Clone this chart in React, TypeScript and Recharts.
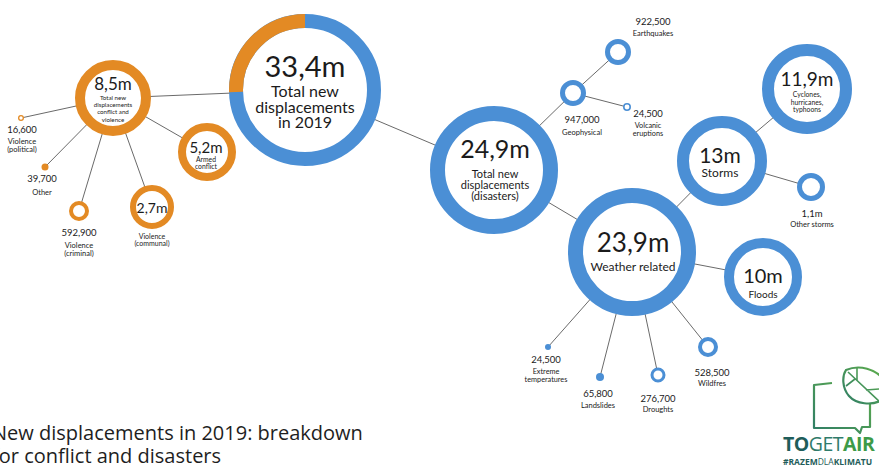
import React from 'react';
import { ScatterChart, Scatter, XAxis, YAxis } from 'recharts';

// ---- data ----
const nodeValues = ['33,4m', '8,5m', '5,2m', '2,7m', '592,900', '39,700', '16,600', '24,9m', '947,000', '922,500', '24,500', '23,9m', '13m', '11,9m', '1,1m', '10m', '24,500', '65,800', '276,700', '528,500'];
const nodeLabels: string[][] = [
  ['Total new', 'displacements', 'in 2019'],
  ['Total new', 'displacements', 'conflict and', 'violence'],
  ['Armed', 'conflict'],
  ['Violence', '(communal)'],
  ['Violence', '(criminal)'],
  ['Other'],
  ['Violence', '(political)'],
  ['Total new', 'displacements', '(disasters)'],
  ['Geophysical'],
  ['Earthquakes'],
  ['Volcanic', 'eruptions'],
  ['Weather related'],
  ['Storms'],
  ['Cyclones,', 'hurricanes,', 'typhoons'],
  ['Other storms'],
  ['Floods'],
  ['Extreme', 'temperatures'],
  ['Landslides'],
  ['Droughts'],
  ['Wildfres'],
];
const nodeGroups = ['total', 'conflict', 'conflict', 'conflict', 'conflict', 'conflict', 'conflict', 'disaster', 'disaster', 'disaster', 'disaster', 'disaster', 'disaster', 'disaster', 'disaster', 'disaster', 'disaster', 'disaster', 'disaster', 'disaster'];
const conflictTotal = 8.5;
const grandTotal = 33.4;
const links: [number, number][] = [
  [0, 1], [0, 7], [1, 2], [1, 3], [1, 4], [1, 5], [1, 6],
  [7, 8], [8, 9], [8, 10], [7, 11], [11, 12], [12, 13], [12, 14], [11, 15],
  [11, 16], [11, 17], [11, 18], [11, 19],
];
const titleLines = ['New displacements in 2019: breakdown', 'for conflict and disasters'];

// ---- layout (positions / sizes / styles) ----
// x, y, r, w(ring width, 0 = solid), dx, vy, vs, ly, ls, lh
const layout = [
  [305, 90, 76, 14, 0, -13, 29, 7, 16, 15.5],
  [113, 98, 38, 10, 0, -8, 17, 2, 6.2, 7.2],
  [207, 152, 29, 8, -1, 1, 15, 10, 6.8, 7.2],
  [152, 207, 22, 6, 0, 6, 14, 32, 7, 7.2],
  [79, 211, 10, 4, 0, 25, 9.5, 37, 7.5, 7.8],
  [45, 167, 3.5, 0, -3, 15, 9.5, 28, 7.5, 7.5],
  [21, 118, 3, 1.3, 1, 15, 9.5, 26, 7.5, 8],
  [494, 170, 64, 15, 1, -12, 25, 8, 11, 10.8],
  [573, 93, 13, 5, 9, 30, 9.5, 42, 7.5, 7.5],
  [618, 52, 13, 5, 35, -27, 9.5, -16, 7.5, 7.5],
  [627, 107, 4, 1.6, 21, 10, 9.5, 21, 7.3, 7.5],
  [632, 252, 64, 15, 1, 0, 26, 19, 12, 12],
  [722, 161, 45, 12, -2, 2, 21, 16, 12, 12],
  [807, 89, 45, 12, 0, -3, 19, 8, 6.8, 7.6],
  [811, 187, 14, 5, 1, 30, 9.5, 40, 7.5, 7.5],
  [763, 277, 39, 10, 0, 6, 20, 21, 10, 10],
  [548, 347, 3, 0, -2, 16, 9.5, 27, 7.3, 7.6],
  [600, 377, 4, 0, -2, 20, 9.5, 31, 7.5, 7.5],
  [658, 375, 7.5, 3, 0, 27, 9.5, 37, 7.5, 7.5],
  [708, 347, 10, 4, 4, 29, 9.5, 39, 7.5, 7.5],
];

const ORANGE = '#E38A24';
const BLUE = '#4B8FD5';
const TEXT = '#1b1b1b';
const FONT = 'Lato, "Open Sans", sans-serif';

const nodes = nodeValues.map((v, i) => {
  const [x, y, r, w, dx, vy, vs, ly, ls, lh] = layout[i];
  return { id: i, value: v, labels: nodeLabels[i], group: nodeGroups[i], x, y, r, w, dx, vy, vs, ly, ls, lh };
});

const NodeShape = (props: any) => {
  const { cx, cy, payload } = props;
  if (cx == null || cy == null || !payload) return <g />;
  const { r, w, dx, vy, vs, ly, ls, lh, value, labels, group } = payload;
  const color = group === 'conflict' ? ORANGE : BLUE;
  const rm = r - w / 2;
  let ring;
  if (w === 0) {
    ring = <circle cx={cx} cy={cy} r={r} fill={color} />;
  } else {
    ring = <circle cx={cx} cy={cy} r={rm} fill="#fff" stroke={color} strokeWidth={w} />;
  }
  let arc = null;
  if (group === 'total') {
    const th = (2 * Math.PI * conflictTotal) / grandTotal;
    const sx = cx - rm * Math.sin(th);
    const sy = cy - rm * Math.cos(th);
    const large = th > Math.PI ? 1 : 0;
    arc = (
      <path d={`M ${sx} ${sy} A ${rm} ${rm} 0 ${large} 1 ${cx} ${cy - rm}`} fill="none" stroke={ORANGE} strokeWidth={w} />
    );
  }
  return (
    <g>
      {ring}
      {arc}
      <text x={cx + dx} y={cy + vy} textAnchor="middle" fontFamily={FONT} fontSize={vs} fill={TEXT}>
        {value}
      </text>
      {labels.map((l: string, k: number) => (
        <text key={k} x={cx + dx} y={cy + ly + k * lh} textAnchor="middle" fontFamily={FONT} fontSize={ls} fill={TEXT}>
          {l}
        </text>
      ))}
    </g>
  );
};

const Empty = () => <g />;

const Logo = () => (
  <svg width={879} height={468} style={{ position: 'absolute', left: 0, top: 0, pointerEvents: 'none' }}>
    <defs>
      <linearGradient id="lg" x1="0" y1="1" x2="1" y2="0">
        <stop offset="0" stopColor="#2f7d66" />
        <stop offset="1" stopColor="#5fae4c" />
      </linearGradient>
    </defs>
    <text fontFamily='"Open Sans", sans-serif' fontSize={20} fill="#1e1e1e">
      <tspan x={-8} y={440}>{titleLines[0]}</tspan>
      <tspan x={-8} y={463}>{titleLines[1]}</tspan>
    </text>
    <path d="M 832 383 L 814 385 L 814 428 L 855 428 L 860 433 L 862 427 L 870 427 L 870 404" fill="none" stroke="url(#lg)" strokeWidth={2.2} strokeLinejoin="round" />
    <path d="M 846 370 C 860 364 876 370 882 378 L 882 400 C 872 406 856 404 849 396 C 842 388 842 376 846 370 Z" fill="#fff" stroke="url(#lg)" strokeWidth={2.2} />
    <path d="M 848 372 L 880 402 M 857 381 L 857 368 M 866 390 L 880 389 M 855 379 L 846 386" fill="none" stroke="url(#lg)" strokeWidth={1.6} />
    <text y={451} fontFamily='"Open Sans", sans-serif' fontSize={19.5} letterSpacing={-0.5}>
      <tspan x={783} fontWeight={700} fill="#1f5d5a">TO</tspan>
      <tspan fontWeight={400} fill="#2f7b6a">GET</tspan>
      <tspan fontWeight={700} fill="#3d9a48">AIR</tspan>
    </text>
    <text y={465} fontFamily='"Open Sans", sans-serif' fontSize={8.5} fill="#1f5d5a">
      <tspan x={783} fontWeight={700}>#RAZEM</tspan>
      <tspan fontWeight={400}>DLA</tspan>
      <tspan fontWeight={700}>KLIMATU</tspan>
    </text>
  </svg>
);

export default function App() {
  return (
    <div style={{ position: 'fixed', left: 0, top: 0, width: 879, height: 468, background: '#fff', overflow: 'hidden' }}>
      <ScatterChart width={879} height={468} margin={{ top: 0, right: 0, bottom: 0, left: 0 }}>
        <XAxis type="number" dataKey="x" domain={[0, 879]} hide />
        <YAxis type="number" dataKey="y" domain={[0, 468]} reversed hide />
        {links.map(([a, b], i) => (
          <Scatter
            key={`l${i}`}
            data={[nodes[a], nodes[b]]}
            line={{ stroke: '#6a6a6a', strokeWidth: 1 }}
            shape={<Empty />}
            isAnimationActive={false}
            legendType="none"
          />
        ))}
        <Scatter data={nodes} shape={<NodeShape />} isAnimationActive={false} legendType="none" />
      </ScatterChart>
      <Logo />
    </div>
  );
}
